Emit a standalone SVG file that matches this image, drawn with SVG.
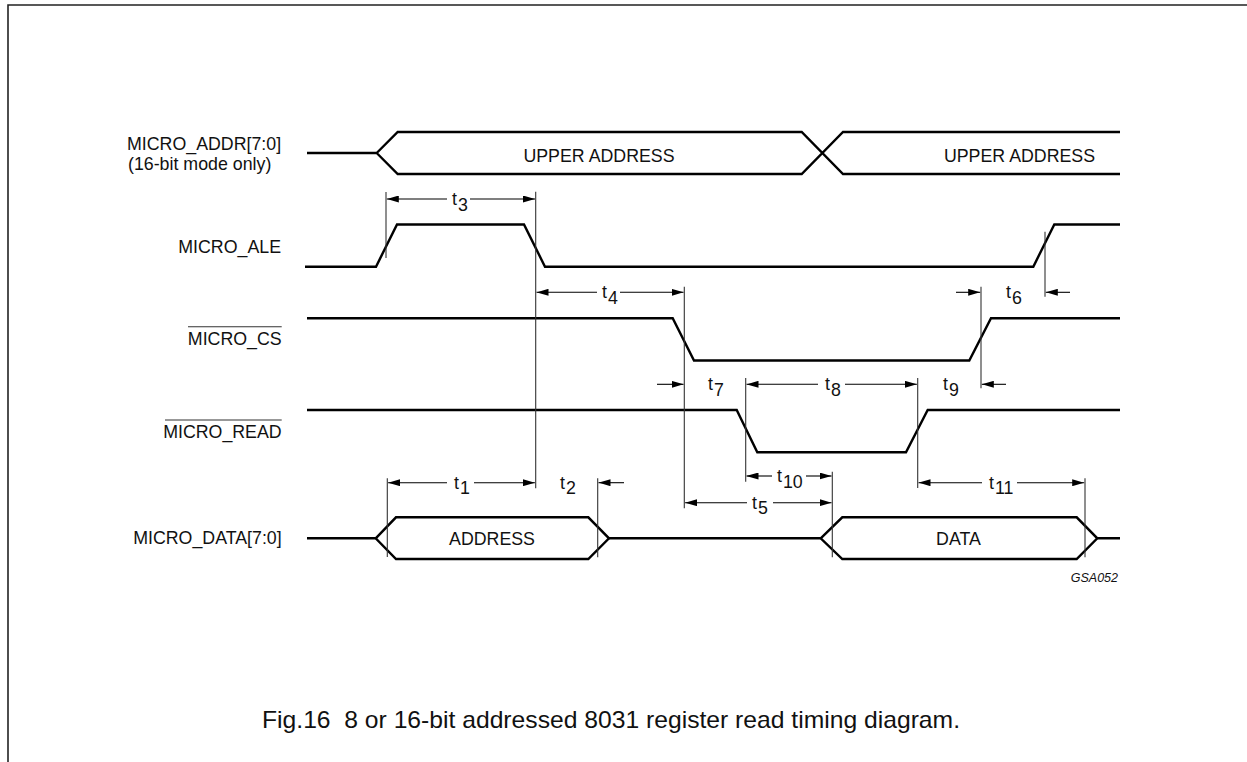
<svg xmlns="http://www.w3.org/2000/svg" width="1247" height="762" viewBox="0 0 1247 762">
<style>
  .bg { fill: #ffffff; }
  .frame { stroke: #222; stroke-width: 1.6; fill: none; }
  .sig { stroke: #000; stroke-width: 2.4; fill: none; stroke-linejoin: miter; }
  .dim { stroke: #333; stroke-width: 1.1; fill: none; }
  .arr { stroke: #000; stroke-width: 1.1; fill: none; marker-end: url(#ah); }
  .ovl { stroke: #333; stroke-width: 1.1; }
  .lbl { font-family: "Liberation Sans", Arial, sans-serif; font-size: 17.8px; fill: #111; }
  .r { text-anchor: end; }
  .c { text-anchor: middle; }
  .tag { font-family: "Liberation Sans", Arial, sans-serif; font-size: 12.5px; font-style: italic; fill: #111; text-anchor: end; }
  .cap { font-family: "Liberation Sans", Arial, sans-serif; font-size: 24px; fill: #111; white-space: pre; }
</style>
<defs>
  <marker id="ah" markerUnits="userSpaceOnUse" markerWidth="12" markerHeight="7" refX="12" refY="3.5" orient="auto">
    <path d="M0,0 L12,3.5 L0,7 z" fill="#000"/>
  </marker>
</defs>
<rect class="bg" x="0" y="0" width="1247" height="762"/>
<path class="frame" d="M8,762 L8,5 L1247,5"/>

<g id="addr">
  <text class="lbl" x="127" y="150">MICRO_ADDR[7:0]</text>
  <text class="lbl" x="128" y="170">(16-bit mode only)</text>
  <path class="sig" d="M307,153 L376.7,153 M376.7,153 L397.7,132 L801.7,132 L843,174 L1120,174 M376.7,153 L397.7,174 L801.7,174 L843,132 L1120,132"/>
  <text class="lbl c" x="599" y="161.5">UPPER ADDRESS</text>
  <text class="lbl c" x="1019.5" y="161.5">UPPER ADDRESS</text>
</g>

<g id="ale">
  <text class="lbl r" x="281" y="253">MICRO_ALE</text>
  <path class="sig" d="M305,266.7 L376,266.7 L397,224.5 L524,224.5 L545,266.7 L1033.3,266.7 L1054.3,224.5 L1120,224.5"/>
</g>

<g id="cs">
  <text class="lbl r" x="281.7" y="345">MICRO_CS</text>
  <line class="ovl" x1="188" y1="326.7" x2="281.7" y2="326.7"/>
  <path class="sig" d="M307,318.3 L672.7,318.3 L694,360.5 L969.3,360.5 L991,318.3 L1120,318.3"/>
</g>

<g id="read">
  <text class="lbl r" x="281.7" y="437.7">MICRO_READ</text>
  <line class="ovl" x1="165" y1="420" x2="281.7" y2="420"/>
  <path class="sig" d="M307,410 L736.7,410 L757.3,452.3 L906,452.3 L927.7,410 L1120,410"/>
</g>

<g id="data">
  <text class="lbl r" x="281.7" y="544.3">MICRO_DATA[7:0]</text>
  <path class="sig" d="M307,538.3 L375.7,538.3 M609,538.3 L820.7,538.3 M1097.3,538.3 L1120,538.3"/>
  <path class="sig" d="M375.7,538.3 L396,517.3 L588.3,517.3 L609,538.3 L588.3,559 L396,559 Z"/>
  <path class="sig" d="M820.7,538.3 L842.3,517.3 L1076.7,517.3 L1097.3,538.3 L1076.7,559 L842.3,559 Z"/>
  <text class="lbl c" x="492" y="545">ADDRESS</text>
  <text class="lbl c" x="958.5" y="545">DATA</text>
</g>

<g id="connectors">
  <line class="dim" x1="386" y1="192" x2="386" y2="258"/>
  <line class="dim" x1="535.7" y1="191.7" x2="535.7" y2="488.3"/>
  <line class="dim" x1="684.3" y1="286.7" x2="684.3" y2="508.3"/>
  <line class="dim" x1="981" y1="286.7" x2="981" y2="388.3"/>
  <line class="dim" x1="1045" y1="231.7" x2="1045" y2="296.7"/>
  <line class="dim" x1="745.7" y1="378" x2="745.7" y2="481.7"/>
  <line class="dim" x1="917.7" y1="378" x2="917.7" y2="488"/>
  <line class="dim" x1="387.3" y1="478.3" x2="387.3" y2="557"/>
  <line class="dim" x1="597.7" y1="478.3" x2="597.7" y2="557.3"/>
  <line class="dim" x1="832.3" y1="471.7" x2="832.3" y2="557.3"/>
  <line class="dim" x1="1085" y1="478.3" x2="1085" y2="557.3"/>

  <line class="arr" x1="447" y1="199" x2="386.8" y2="199"/>
  <line class="arr" x1="470" y1="199" x2="535" y2="199"/>
  <line class="arr" x1="597" y1="292.3" x2="536.5" y2="292.3"/>
  <line class="arr" x1="620" y1="292.3" x2="683.5" y2="292.3"/>
  <line class="arr" x1="956" y1="292.3" x2="980.2" y2="292.3"/>
  <line class="arr" x1="1070" y1="292.3" x2="1045.8" y2="292.3"/>
  <line class="arr" x1="657" y1="384.3" x2="683.5" y2="384.3"/>
  <line class="arr" x1="818" y1="384.3" x2="746.5" y2="384.3"/>
  <line class="arr" x1="845" y1="384.3" x2="916.9" y2="384.3"/>
  <line class="arr" x1="1006" y1="384.3" x2="981.8" y2="384.3"/>
  <line class="arr" x1="447" y1="482.7" x2="388.1" y2="482.7"/>
  <line class="arr" x1="474" y1="482.7" x2="534.9" y2="482.7"/>
  <line class="arr" x1="624" y1="482.7" x2="598.5" y2="482.7"/>
  <line class="arr" x1="772" y1="476" x2="746.5" y2="476"/>
  <line class="arr" x1="806" y1="476" x2="831.5" y2="476"/>
  <line class="arr" x1="747" y1="502.7" x2="685.1" y2="502.7"/>
  <line class="arr" x1="773" y1="502.7" x2="831.5" y2="502.7"/>
  <line class="arr" x1="982" y1="482.7" x2="918.5" y2="482.7"/>
  <line class="arr" x1="1017" y1="482.7" x2="1084.2" y2="482.7"/>

  <text class="lbl" x="452" y="205">t<tspan dx="1" dy="5.5">3</tspan></text>
  <text class="lbl" x="602" y="298">t<tspan dx="1" dy="5.5">4</tspan></text>
  <text class="lbl" x="1006" y="298">t<tspan dx="1" dy="5.5">6</tspan></text>
  <text class="lbl" x="708" y="390">t<tspan dx="1" dy="5.5">7</tspan></text>
  <text class="lbl" x="825" y="390">t<tspan dx="1" dy="5.5">8</tspan></text>
  <text class="lbl" x="943" y="390">t<tspan dx="1" dy="5.5">9</tspan></text>
  <text class="lbl" x="454" y="488.5">t<tspan dx="1" dy="5.5">1</tspan></text>
  <text class="lbl" x="560" y="488.5">t<tspan dx="1" dy="5.5">2</tspan></text>
  <text class="lbl" x="777" y="482">t<tspan dx="1" dy="5.5">10</tspan></text>
  <text class="lbl" x="752" y="508.5">t<tspan dx="1" dy="5.5">5</tspan></text>
  <text class="lbl" x="989" y="488.5">t<tspan dx="1" dy="5.5">11</tspan></text>
</g>

<text class="tag" x="1118" y="581.7">GSA052</text>
<text class="cap" x="262" y="728" textLength="698" lengthAdjust="spacingAndGlyphs">Fig.16&#160;&#160;8 or 16-bit addressed 8031 register read timing diagram.</text>
</svg>
